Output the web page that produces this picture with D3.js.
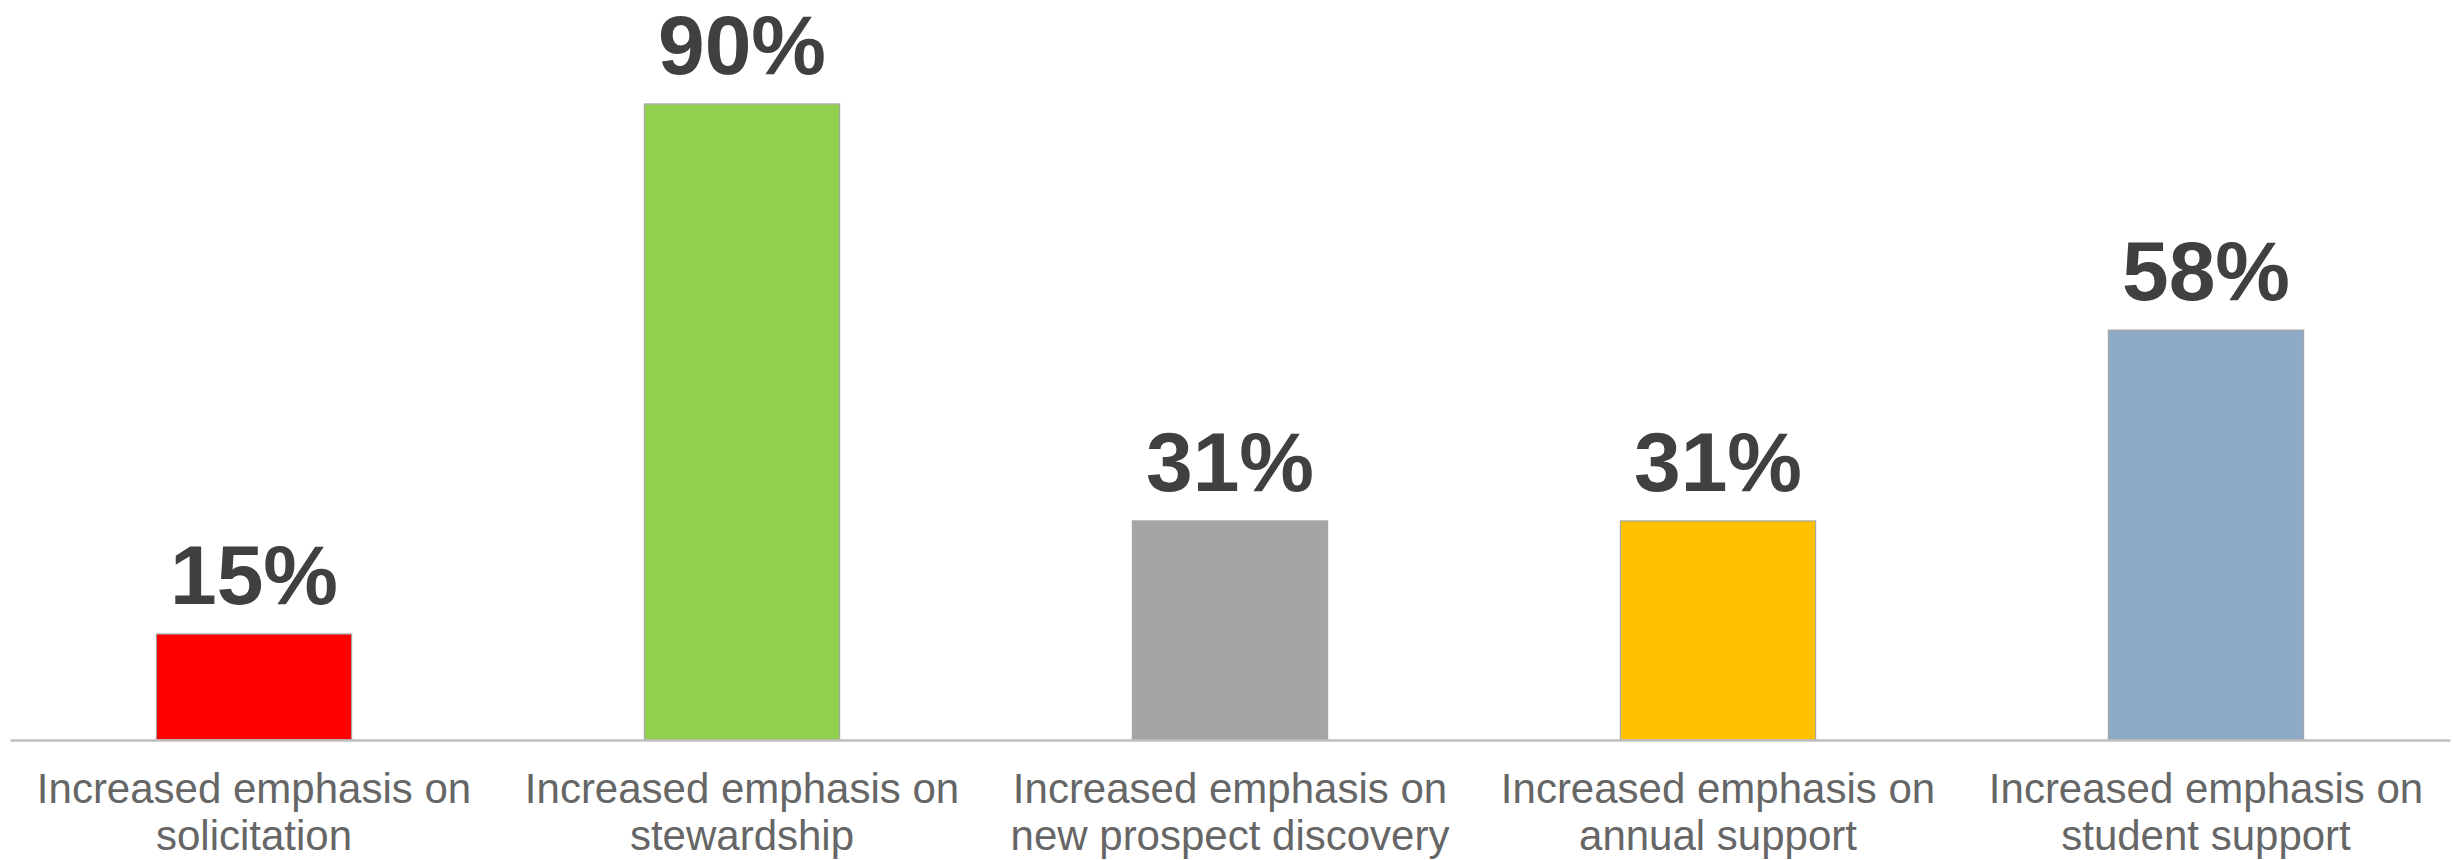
<!DOCTYPE html>
<html>
<head>
<meta charset="utf-8">
<script src="https://cdn.jsdelivr.net/npm/d3@7"></script>
<style>
  html, body { margin: 0; padding: 0; background: #ffffff; }
  svg { display: block; }
</style>
</head>
<body>
<svg id="chart" width="2453" height="860"></svg>
<script>
// Share of respondents reporting each change in emphasis
const categories = [
  ["Increased emphasis on", "solicitation"],
  ["Increased emphasis on", "stewardship"],
  ["Increased emphasis on", "new prospect discovery"],
  ["Increased emphasis on", "annual support"],
  ["Increased emphasis on", "student support"]
];
const values = [15, 90, 31, 31, 58];
const barColors = ["#ff0000", "#92d050", "#a5a5a5", "#ffc000", "#8eaac6"];

const width = 2453, height = 860;
const svg = d3.select("#chart");

const x = d3.scaleBand()
  .domain(d3.range(values.length))
  .range([10, 2450])
  .paddingInner(0.6)
  .paddingOuter(0.3);

const y = d3.scaleLinear()
  .domain([0, 100])
  .range([740, 33.3]);

// bars
svg.append("g")
  .selectAll("rect")
  .data(values)
  .join("rect")
  .attr("x", (d, i) => x(i))
  .attr("y", d => y(d))
  .attr("width", x.bandwidth())
  .attr("height", d => y(0) - y(d))
  .attr("fill", (d, i) => barColors[i])
  .attr("stroke", "#a6a6a6")
  .attr("stroke-width", 1.2);

// baseline
const xAxis = d3.axisBottom(x).tickSize(0).tickFormat("");
const axisG = svg.append("g")
  .attr("transform", `translate(0,${y(0)})`)
  .call(xAxis);
axisG.select(".domain")
  .attr("stroke", "#bfbfbf")
  .attr("stroke-width", 2.5);

// value labels
svg.append("g")
  .selectAll("text")
  .data(values)
  .join("text")
  .attr("x", (d, i) => x(i) + x.bandwidth() / 2)
  .attr("y", d => y(d) - 30)
  .attr("text-anchor", "middle")
  .attr("font-family", "'Liberation Sans', Arial, sans-serif")
  .attr("font-weight", "bold")
  .attr("font-size", 84)
  .attr("fill", "#404040")
  .text(d => d + "%");

// category labels
const catG = svg.append("g")
  .selectAll("text")
  .data(categories)
  .join("text")
  .attr("x", (d, i) => x(i) + x.bandwidth() / 2)
  .attr("y", 803)
  .attr("text-anchor", "middle")
  .attr("font-family", "'Liberation Sans', Arial, sans-serif")
  .attr("font-size", 42)
  .attr("fill", "#666666");

catG.selectAll("tspan")
  .data(d => d)
  .join("tspan")
  .attr("x", function () { return d3.select(this.parentNode).attr("x"); })
  .attr("dy", (d, j) => j === 0 ? 0 : 47)
  .text(d => d);
</script>
</body>
</html>
